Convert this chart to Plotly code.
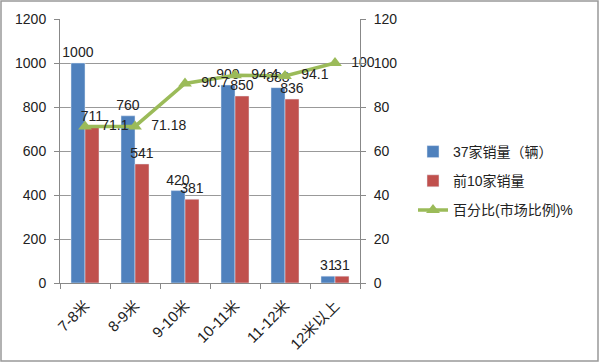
import plotly.graph_objects as go

categories = ["7-8米", "8-9米", "9-10米", "10-11米", "11-12米", "12米以上"]
sales37 = [1000, 760, 420, 900, 888, 31]
sales10 = [711, 541, 381, 850, 836, 31]
percent = [71.1, 71.18, 90.7, 94.4, 94.1, 100]

font_family = "Liberation Sans, Noto Sans CJK SC, sans-serif"

fig = go.Figure()
fig.add_trace(go.Bar(name="37家销量（辆）", x=categories, y=sales37, marker_color="#4F81BD",
                     legendgroup="a",
                     text=[str(v) for v in sales37], textposition="outside", cliponaxis=False,
                     constraintext="none", textfont=dict(size=14, color="#222")))
fig.add_trace(go.Bar(name="前10家销量", x=categories, y=sales10, marker_color="#C0504D",
                     legendgroup="b",
                     text=[str(v) for v in sales10], textposition="outside", cliponaxis=False,
                     constraintext="none", textfont=dict(size=14, color="#222")))
fig.add_trace(go.Scatter(name="百分比(市场比例)%", x=categories, y=percent, yaxis="y2",
                         legendgroup="c",
                         mode="lines+markers+text", line=dict(color="#9BBB59", width=3.5),
                         marker=dict(symbol="triangle-up", size=12, color="#9BBB59"),
                         text=["  " + str(v) for v in percent], textposition="middle right",
                         textfont=dict(size=14, color="#222"), cliponaxis=False))

L, R, T, B = 60, 240, 19, 80
pw = 600 - L - R
ph = 363 - T - B

fig.update_layout(
    width=600, height=363,
    margin=dict(l=L, r=R, t=T, b=B),
    paper_bgcolor="white", plot_bgcolor="white",
    font=dict(family=font_family, size=14, color="#222"),
    barmode="group", bargap=0.44, bargroupgap=0,
    xaxis=dict(type="category", tickangle=-45, ticks="outside", ticklen=5, tickcolor="#888",
               tickson="boundaries", showline=True, linecolor="#888", linewidth=1,
               tickfont=dict(size=15), automargin=False, ticklabelstandoff=7),
    yaxis=dict(range=[0, 1200], dtick=200, showgrid=True, gridcolor="#999", gridwidth=1,
               showline=True, linecolor="#888", ticks="outside", ticklen=5, tickcolor="#888",
               zeroline=False, tickfont=dict(size=14), automargin=False, ticklabelstandoff=5),
    yaxis2=dict(range=[0, 120], dtick=20, overlaying="y", side="right", showgrid=False,
                showline=True, linecolor="#888", ticks="outside", ticklen=5, tickcolor="#888",
                zeroline=False, tickfont=dict(size=14), automargin=False, ticklabelstandoff=5),
    legend=dict(x=(413 - L) / pw, y=(283 - 136) / ph, xanchor="left", yanchor="top",
                font=dict(size=14), tracegroupgap=8, bgcolor="rgba(0,0,0,0)"),
    showlegend=True,
)
fig.add_shape(type="rect", xref="paper", yref="paper",
              x0=(1 - L) / pw, x1=(598 - L) / pw, y0=(283 - 361) / ph, y1=(283 - 1) / ph,
              line=dict(color="#999", width=1.5), fillcolor="rgba(0,0,0,0)")
fig.write_html("out.html", config={"displayModeBar": False},
               post_script="document.body.style.margin='0';document.body.style.overflow='hidden';")
